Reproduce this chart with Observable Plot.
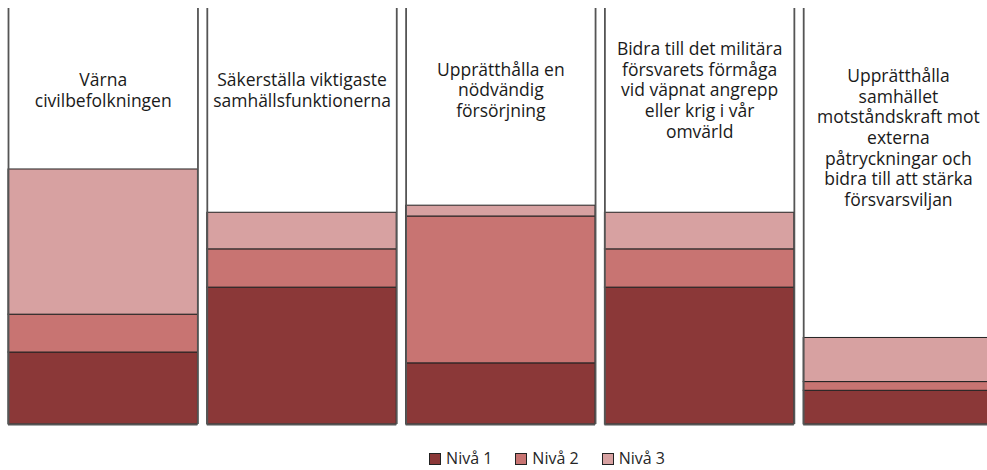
<!DOCTYPE html>
<html>
<head>
<meta charset="utf-8">
<script src="https://cdn.jsdelivr.net/npm/d3@7"></script>
<script src="https://cdn.jsdelivr.net/npm/@observablehq/plot@0.6"></script>
<style>
  body { margin: 0; background: #fff; font-family: "Open Sans", sans-serif; overflow: hidden; }
  #legend { display: flex; justify-content: center; gap: 23px; font-size: 16px; line-height: 22px; color: #262626; margin-left: 107px; height: 22px; align-items: center; margin-top: 7px; }
  #legend span.sw { display: inline-block; width: 10px; height: 10px; border: 1px solid #222; margin-right: 5px; vertical-align: -1px; }
</style>
</head>
<body>
<div id="chart"></div>
<div id="legend"></div>
<script>
const categories = [
  "Värna\ncivilbefolkningen",
  "Säkerställa viktigaste\nsamhällsfunktionerna",
  "Upprätthålla en\nnödvändig\nförsörjning",
  "Bidra till det militära\nförsvarets förmåga\nvid väpnat angrepp\neller krig i vår\nomvärld",
  "Upprätthålla\nsamhället\nmotståndskraft mot\nexterna\npåtryckningar och\nbidra till att stärka\nförsvarsviljan"
];
const levels = ["Nivå 1", "Nivå 2", "Nivå 3"];
const niva1 = [17.3, 32.9, 14.7, 32.9, 8.1];
const niva2 = [9.1, 9.2, 35.3, 9.2, 2.1];
const niva3 = [34.9, 8.8, 2.6, 8.8, 10.6];
const colors = ["#8B3838", "#C87472", "#D7A1A1"];

const series = [niva1, niva2, niva3];
const W = 0.953; // panel width in x units
const rows = [];
categories.forEach((c, i) => {
  let base = 0;
  series.forEach((s, k) => {
    rows.push({i, cat: c, level: levels[k], y1: base, y2: base + s[i]});
    base += s[i];
  });
});
const panels = categories.map((c, i) => ({i, cat: c}));
const labelY = i => (i === 4 ? 69 : 80.5);

const chart = Plot.plot({
  width: 987,
  height: 440,
  marginTop: 8,
  marginBottom: 16,
  marginLeft: 8,
  marginRight: 0,
  x: {type: "linear", domain: [0, 5], range: [8, 1002], axis: null},
  y: {domain: [0, 100], axis: null},
  color: {domain: levels, range: colors},
  marks: [
    Plot.rect(rows, {x1: d => d.i, x2: d => d.i + W, y1: "y1", y2: "y2", fill: "level", stroke: "#222", strokeWidth: 1}),
    Plot.ruleX(panels, {x: d => d.i, y1: 0, y2: 100, stroke: "#555", strokeWidth: 1.8}),
    Plot.ruleX(panels, {x: d => d.i + W, y1: 0, y2: 100, stroke: "#555", strokeWidth: 1.8}),
    Plot.ruleY(panels, {x1: d => d.i, x2: d => d.i + W, y: 0, stroke: "#555", strokeWidth: 1.8}),
    Plot.text(panels, {x: d => d.i + W / 2, y: d => labelY(d.i), text: "cat", fontSize: 17.5, lineHeight: 1.18, fill: "#1a1a1a", fontFamily: "Open Sans"})
  ]
});
document.getElementById("chart").appendChild(chart);

const lg = document.getElementById("legend");
levels.forEach((l, k) => {
  const item = document.createElement("div");
  item.innerHTML = `<span class="sw" style="background:${colors[k]}"></span>${l}`;
  lg.appendChild(item);
});
</script>
</body>
</html>
